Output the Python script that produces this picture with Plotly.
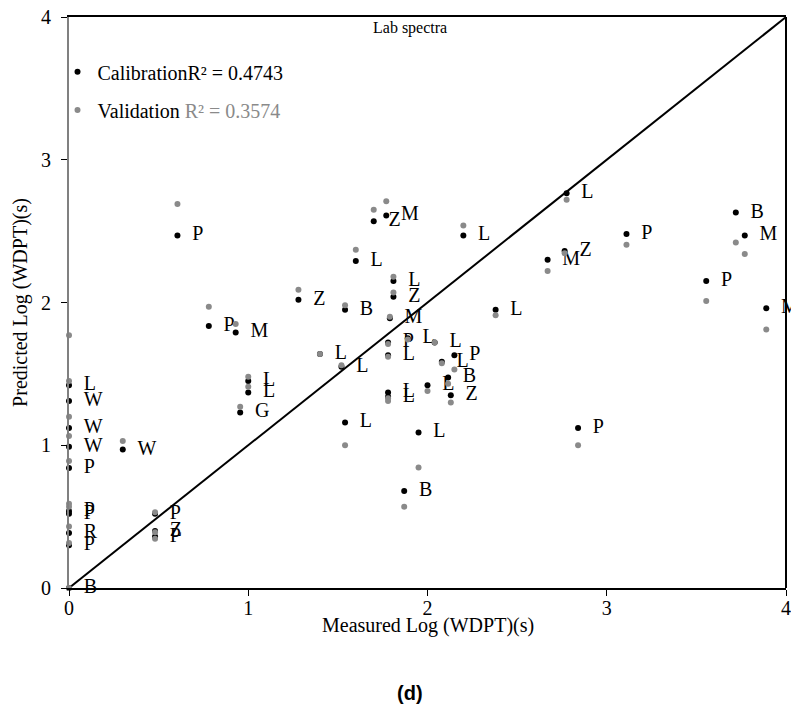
import plotly.graph_objects as go

# Measured values (x) with calibration/validation predictions and soil labels
measured = [0, 0, 0, 0, 0, 0, 0, 0, 0, 0,
            0.30, 0.48, 0.48, 0.48, 0.605, 0.78, 0.93, 0.955, 1.0, 1.0,
            1.28, 1.40, 1.52, 1.54, 1.54, 1.60, 1.70, 1.77, 1.81, 1.81,
            1.79, 1.78, 1.78, 1.78, 1.78, 1.89, 2.04, 2.08, 2.15, 2.115,
            2.0, 2.13, 1.95, 1.87, 2.20, 2.38, 2.776, 2.67, 2.765, 3.11,
            3.72, 3.77, 3.555, 3.89, 2.84]
cal_pred = [1.42, 1.31, 1.12, 0.99, 0.84, 0.54, 0.52, 0.385, 0.30, 0.0,
            0.97, 0.52, 0.40, 0.36, 2.47, 1.835, 1.79, 1.23, 1.45, 1.37,
            2.02, 1.64, 1.55, 1.95, 1.16, 2.29, 2.57, 2.61, 2.15, 2.04,
            1.89, 1.72, 1.63, 1.37, 1.34, 1.75, 1.72, 1.585, 1.63, 1.475,
            1.42, 1.35, 1.09, 0.68, 2.47, 1.95, 2.765, 2.30, 2.36, 2.48,
            2.63, 2.47, 2.15, 1.96, 1.12]
val_pred = [1.77, 1.45, 1.20, 1.065, 0.89, 0.59, 0.57, 0.43, 0.315, 0.0,
            1.03, 0.53, 0.39, 0.345, 2.69, 1.97, 1.85, 1.27, 1.48, 1.41,
            2.09, 1.64, 1.56, 1.98, 1.00, 2.37, 2.65, 2.71, 2.18, 2.07,
            1.90, 1.71, 1.62, 1.33, 1.31, 1.74, 1.72, 1.575, 1.53, 1.43,
            1.38, 1.30, 0.845, 0.57, 2.54, 1.91, 2.72, 2.22, 2.345, 2.405,
            2.42, 2.34, 2.01, 1.81, 1.00]
labels = ["L", "W", "W", "W", "P", "P", "P", "R", "P", "B",
          "W", "P", "Z", "P", "P", "P", "M", "G", "L", "L",
          "Z", "L", "L", "B", "L", "L", "Z", "M", "L", "Z",
          "M", "P", "L", "L", "L", "L", "L", "L", "P", "B",
          "L", "Z", "L", "B", "L", "L", "L", "M", "Z", "P",
          "B", "M", "P", "M", "P"]
line_x = [0, 4]
line_y = [0, 4]
ticks = [0, 1, 2, 3, 4]

SERIF = "Liberation Serif, Times New Roman, serif"
GREY = "#8a8a8a"

fig = go.Figure()
fig.add_trace(go.Scatter(x=line_x, y=line_y, mode="lines",
                         line=dict(color="black", width=2),
                         showlegend=False, hoverinfo="skip"))
fig.add_trace(go.Scatter(
    x=measured, y=cal_pred, mode="markers+text",
    text=["\u2002" + s for s in labels], textposition="middle right",
    textfont=dict(family=SERIF, size=20, color="black"),
    marker=dict(color="black", size=6),
    name="CalibrationR² = 0.4743", cliponaxis=False, legend="legend"))
fig.add_trace(go.Scatter(
    x=measured, y=val_pred, mode="markers",
    marker=dict(color=GREY, size=6),
    name="Validation <span style='color:#8a8a8a'>R² = 0.3574</span>",
    cliponaxis=False, legend="legend2"))

leg_common = dict(xanchor="left", yanchor="middle", bgcolor="rgba(0,0,0,0)",
                  itemwidth=30, font=dict(family=SERIF, size=20, color="black"))

fig.update_layout(
    width=791, height=714,
    margin=dict(l=61, r=13, t=9, b=134, autoexpand=False),
    paper_bgcolor="white", plot_bgcolor="white",
    font=dict(family=SERIF, size=20, color="black"),
    legend=dict(x=-0.016, y=0.904, **leg_common),
    legend2=dict(x=-0.016, y=0.837, **leg_common),
    xaxis=dict(range=[0, 4], tickvals=ticks, ticks="outside", ticklen=6,
               tickcolor="black", showline=True, linecolor="black", linewidth=2,
               mirror=True, showgrid=False, zeroline=False, automargin=False,
               ticklabeloverflow="allow", ticklabelstandoff=-5,
               tickfont=dict(family=SERIF, size=20)),
    yaxis=dict(range=[0, 4], tickvals=ticks, ticks="outside", ticklen=6,
               tickcolor="black", showline=True, linecolor="#808080", linewidth=2,
               showgrid=False, zeroline=False, automargin=False,
               ticklabeloverflow="allow", ticklabelstandoff=6,
               tickfont=dict(family=SERIF, size=20),
               title=dict(text="Predicted Log (WDPT)(s)", standoff=8,
                          font=dict(family=SERIF, size=20))),
    shapes=[dict(type="line", xref="paper", yref="paper", x0=1, x1=1, y0=0, y1=1,
                 line=dict(color="black", width=2))],
    annotations=[
        dict(text="Measured Log (WDPT)(s)", x=0.5, y=-0.066, xref="paper", yref="paper",
             xanchor="center", yanchor="middle", showarrow=False,
             font=dict(family=SERIF, size=20, color="black")),
        dict(text="Lab spectra", x=0.475, y=0.981, xref="paper", yref="paper",
             xanchor="center", yanchor="middle", showarrow=False,
             font=dict(family=SERIF, size=16, color="black")),
        dict(text="<b>(d)</b>", x=0.476, y=-0.184, xref="paper", yref="paper",
             xanchor="center", yanchor="middle", showarrow=False,
             font=dict(family="Liberation Sans, Arial, sans-serif", size=20, color="black")),
    ],
)

fig.write_html("out.html")
